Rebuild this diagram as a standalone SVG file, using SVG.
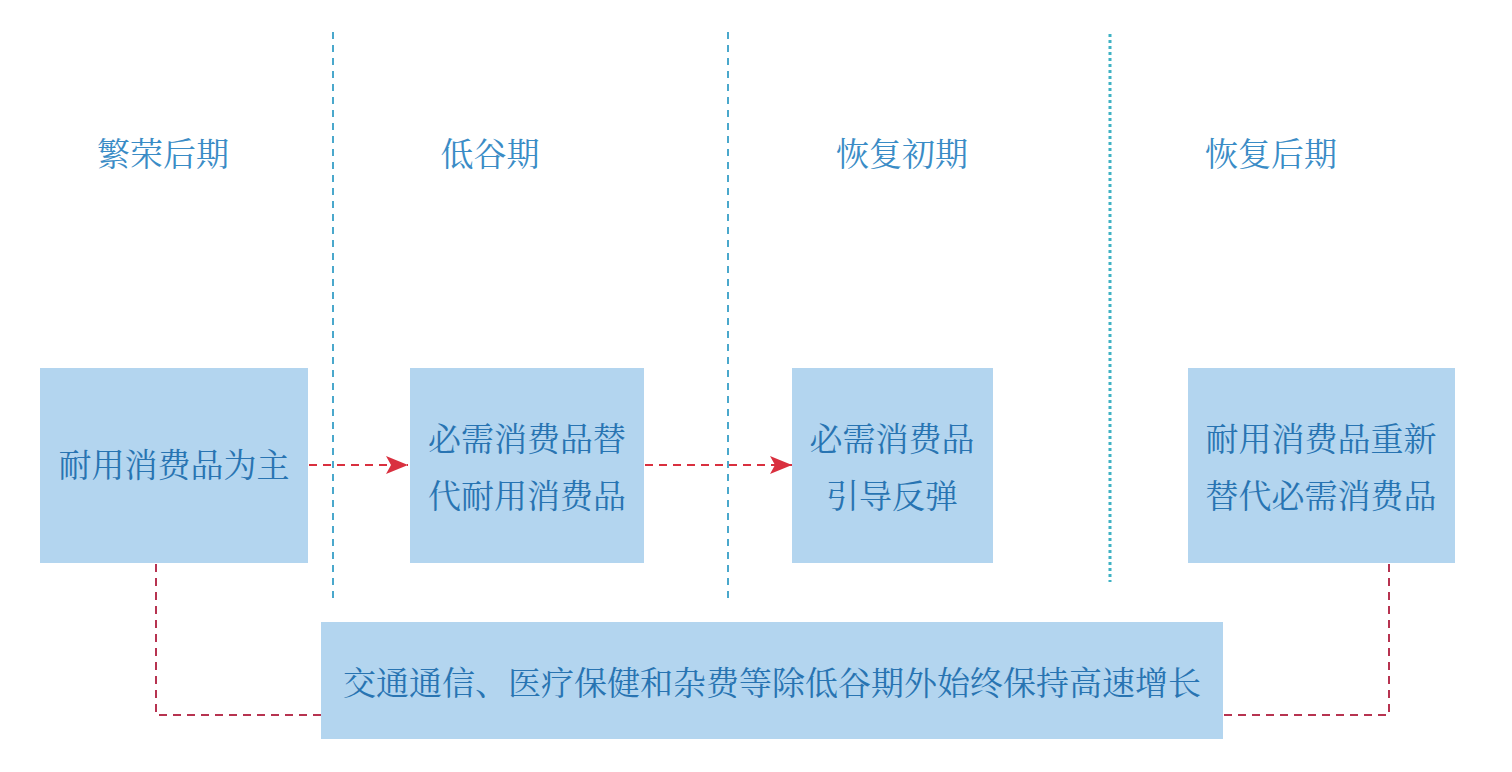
<svg xmlns="http://www.w3.org/2000/svg" width="1512" height="772" viewBox="0 0 1512 772">
<defs>
<style>
.box{fill:#b3d5ef}
.t{font-family:"Noto Serif CJK SC","Noto Sans CJK SC",serif;fill:#2874b2;text-anchor:middle;dominant-baseline:central}
.h{font-size:33px;fill:#3a8cc6}
.b{font-size:33px}
.vl{stroke:#4aa8cc;stroke-width:2;stroke-dasharray:7,6;fill:none}
.vd{stroke:#3fb2c4;stroke-width:3;stroke-dasharray:3,3;fill:none}
.ar{stroke:#d9303f;stroke-width:2;stroke-dasharray:8,6;fill:none}
.cn{stroke:#b73350;stroke-width:2;stroke-dasharray:8,6;fill:none}
</style>
<marker id="ah2" viewBox="0 0 22 18" refX="22" refY="9" markerWidth="22" markerHeight="18" markerUnits="userSpaceOnUse" orient="auto">
<path d="M0,0 L22,9 L0,18 L5,9 Z" fill="#d9303f"/>
</marker>
</defs>
<rect width="1512" height="772" fill="#ffffff"/>
<g id="dividers">
<line class="vl" x1="333" y1="32" x2="333" y2="598"/>
<line class="vl" x1="728" y1="32" x2="728" y2="598"/>
<line class="vd" x1="1110" y1="34" x2="1110" y2="582"/>
</g>
<g id="headers">
<text class="t h" x="163" y="151">繁荣后期</text>
<text class="t h" x="490" y="151">低谷期</text>
<text class="t h" x="902" y="151">恢复初期</text>
<text class="t h" x="1271" y="151">恢复后期</text>
</g>
<g id="connectors">
<line class="ar" x1="309" y1="465" x2="408" y2="465" marker-end="url(#ah2)"/>
<line class="ar" x1="645" y1="465" x2="792" y2="465" marker-end="url(#ah2)"/>
<polyline class="cn" points="156,564 156,715 321,715"/>
<polyline class="cn" points="1224,715 1389,715 1389,564"/>
</g>
<g id="node1">
<rect class="box" x="40" y="368" width="268" height="195"/>
<text class="t b" x="174" y="462">耐用消费品为主</text>
</g>
<g id="node2">
<rect class="box" x="410" y="368" width="234" height="195"/>
<text class="t b" x="527" y="436">必需消费品替</text>
<text class="t b" x="527" y="493">代耐用消费品</text>
</g>
<g id="node3">
<rect class="box" x="792" y="368" width="201" height="195"/>
<text class="t b" x="892" y="436">必需消费品</text>
<text class="t b" x="892" y="493">引导反弹</text>
</g>
<g id="node4">
<rect class="box" x="1188" y="368" width="267" height="195"/>
<text class="t b" x="1321" y="436">耐用消费品重新</text>
<text class="t b" x="1321" y="493">替代必需消费品</text>
</g>
<g id="node5">
<rect class="box" x="321" y="622" width="902" height="117"/>
<text class="t b" x="772" y="680">交通通信、医疗保健和杂费等除低谷期外始终保持高速增长</text>
</g>
</svg>
